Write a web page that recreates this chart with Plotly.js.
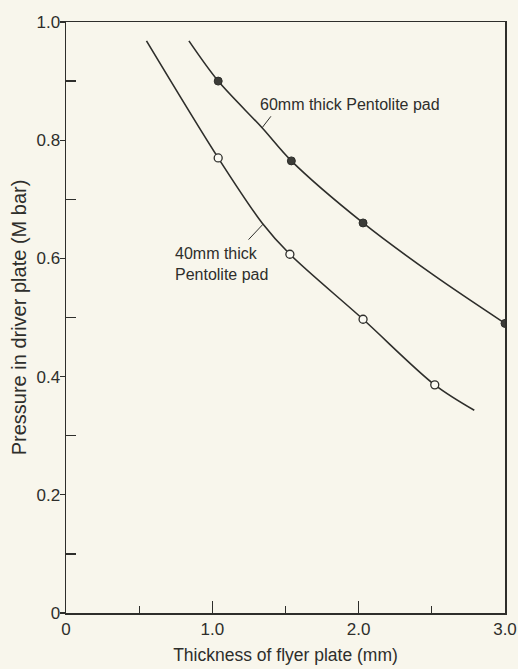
<!DOCTYPE html>
<html><head><meta charset="utf-8">
<script src="https://cdn.plot.ly/plotly-3.0.1.min.js"></script>
<style>html,body{margin:0;padding:0;background:#f8f6ec;}#chart{width:518px;height:669px;}</style>
</head><body><div id="chart"></div>
<script>
// 60 mm thick Pentolite pad (filled points)
const thick60 = [1.04, 1.54, 2.03, 3.0];
const press60 = [0.90, 0.765, 0.66, 0.49];
// drawn curve for 60 mm pad
const curve60X = [0.84, 1.04, 1.34, 1.54, 2.03, 2.51, 3.0];
const curve60Y = [0.968, 0.90, 0.821, 0.765, 0.66, 0.572, 0.49];
// 40 mm thick Pentolite pad (open points)
const thick40 = [1.04, 1.53, 2.03, 2.52];
const press40 = [0.77, 0.607, 0.497, 0.386];
const curve40X = [0.55, 1.04, 1.34, 1.53, 2.03, 2.52, 2.79];
const curve40Y = [0.968, 0.77, 0.66, 0.607, 0.497, 0.386, 0.343];
// ticks
const xTickVals = [0, 1, 2, 3];
const xTickText = ['0', '1.0', '2.0', '3.0'];
const xMinorVals = [0.5, 1.5, 2.5];
const yTickVals = [0, 0.2, 0.4, 0.6, 0.8, 1.0];
const yTickText = ['0', '0.2', '0.4', '0.6', '0.8', '1.0'];
const yMinorVals = [0.1, 0.3, 0.5, 0.7, 0.9];

const ink = '#2e2e2b';
const fam = 'Liberation Sans, Arial, sans-serif';

const traces = [
  {x: curve60X, y: curve60Y, mode: 'lines', line: {color: ink, width: 1.6, shape: 'spline', smoothing: 0.9}, hoverinfo: 'skip'},
  {x: curve40X, y: curve40Y, mode: 'lines', line: {color: ink, width: 1.6, shape: 'spline', smoothing: 0.9}, hoverinfo: 'skip'},
  {x: thick60, y: press60, mode: 'markers', marker: {size: 8, color: '#3c3c38', line: {color: ink, width: 1}}},
  {x: thick40, y: press40, mode: 'markers', marker: {size: 8, color: '#fbfaf3', line: {color: ink, width: 1.3}}}
];

const layout = {
  width: 518, height: 669,
  margin: {l: 66, r: 13, t: 22, b: 56},
  paper_bgcolor: '#f8f6ec', plot_bgcolor: '#f8f6ec',
  showlegend: false,
  font: {family: fam, color: ink},
  xaxis: {
    range: [0, 3.0], showgrid: false, zeroline: false,
    showline: true, linecolor: ink, linewidth: 1.5, mirror: true,
    tickmode: 'array', tickvals: xTickVals, ticktext: xTickText,
    ticks: 'inside', ticklen: 12, tickwidth: 1.3, tickcolor: ink,
    tickfont: {size: 17, family: fam, color: ink},
    minor: {tickmode: 'array', tickvals: xMinorVals, ticks: 'inside', ticklen: 7, tickwidth: 1.3, tickcolor: ink, showgrid: false},
    title: {text: 'Thickness of flyer plate (mm)', font: {size: 17.5, family: fam, color: ink}, standoff: 11}
  },
  yaxis: {
    range: [0, 1.0], showgrid: false, zeroline: false,
    showline: true, linecolor: ink, linewidth: 1.5, mirror: true,
    tickmode: 'array', tickvals: yTickVals, ticktext: yTickText,
    ticks: 'outside', ticklen: 5, tickwidth: 1.3, tickcolor: ink,
    ticklabelstandoff: -4,
    tickfont: {size: 17, family: fam, color: ink},
    minor: {tickmode: 'array', tickvals: yMinorVals, ticks: 'inside', ticklen: 10, tickwidth: 1.3, tickcolor: ink, showgrid: false},
    title: {text: 'Pressure in driver plate (M bar)', font: {size: 20, family: fam, color: ink}, standoff: 4}
  },
  annotations: [
    {x: 1.31, y: 0.86, xref: 'x', yref: 'y', text: '60mm thick Pentolite pad', showarrow: false,
     xanchor: 'left', yanchor: 'middle', font: {size: 16, family: fam, color: ink}},
    {x: 1.34, y: 0.821, xref: 'x', yref: 'y', text: '', showarrow: true, arrowhead: 0, arrowwidth: 1, arrowcolor: ink,
     ax: 10, ay: -13, standoff: 0},
    {x: 0.73, y: 0.609, xref: 'x', yref: 'y', text: '40mm thick', showarrow: false,
     xanchor: 'left', yanchor: 'middle', font: {size: 16, family: fam, color: ink}},
    {x: 0.73, y: 0.573, xref: 'x', yref: 'y', text: 'Pentolite pad', showarrow: false,
     xanchor: 'left', yanchor: 'middle', font: {size: 16, family: fam, color: ink}},
    {x: 1.347, y: 0.658, xref: 'x', yref: 'y', text: '', showarrow: true, arrowhead: 0, arrowwidth: 1, arrowcolor: ink,
     ax: -16, ay: 17, standoff: 0}
  ]
};

Plotly.newPlot('chart', traces, layout, {displayModeBar: false, staticPlot: true});
</script>
</body></html>
